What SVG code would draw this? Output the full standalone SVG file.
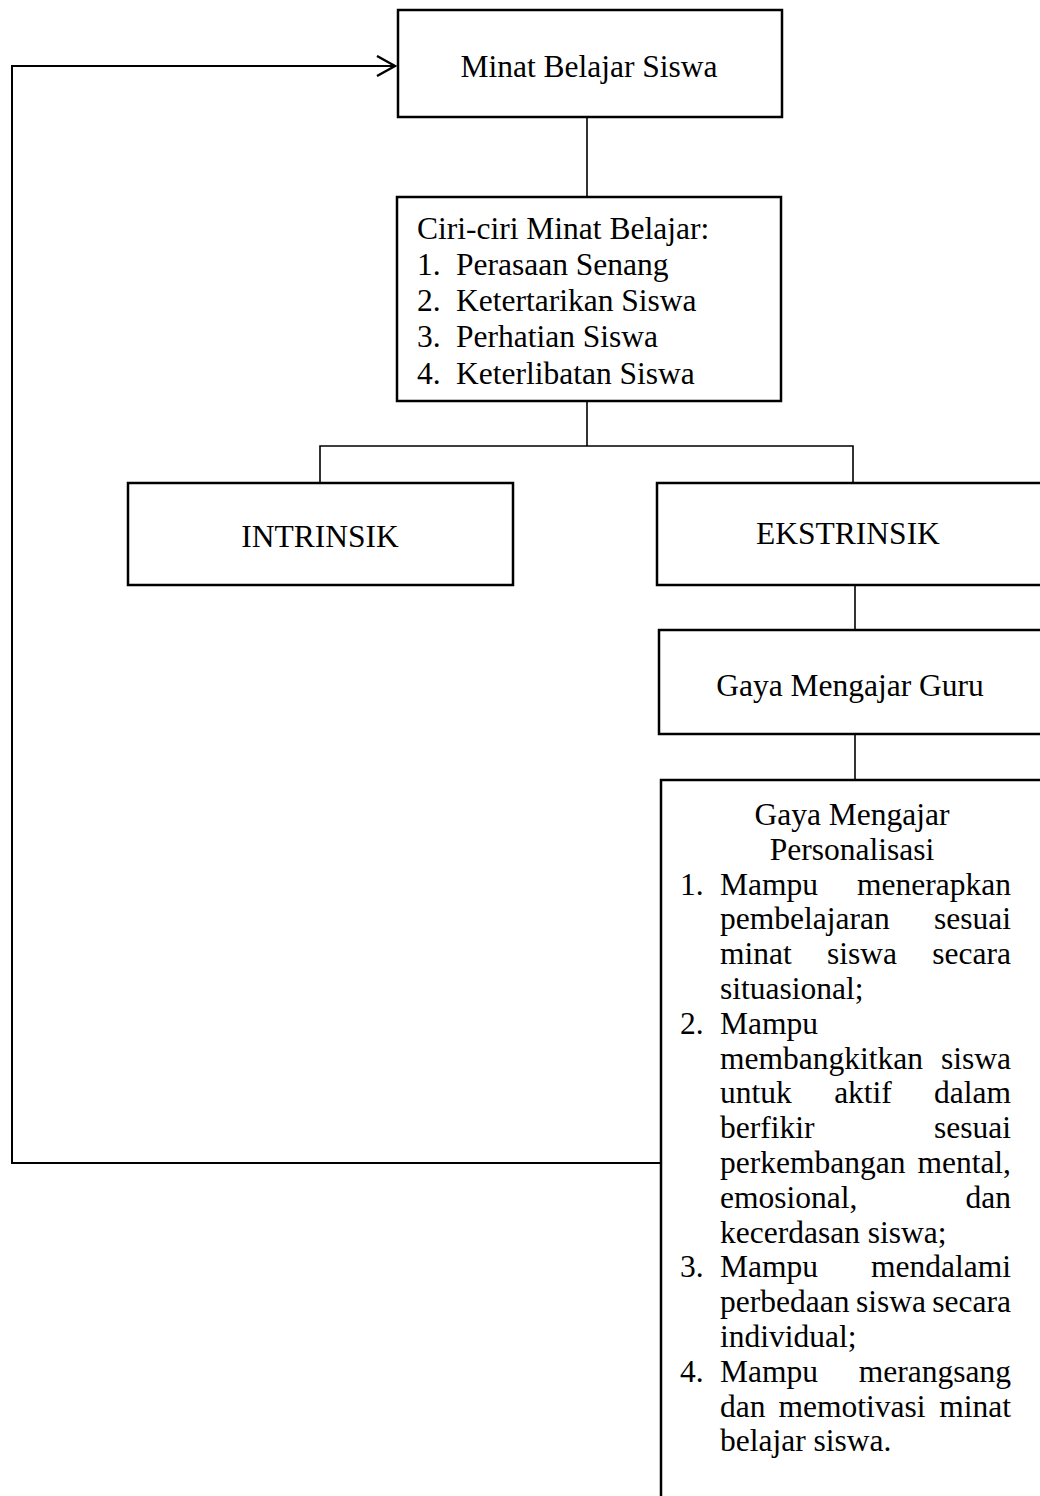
<svg xmlns="http://www.w3.org/2000/svg" width="1040" height="1496" viewBox="0 0 1040 1496">
<style>
  .box { fill: #ffffff; stroke: #000000; stroke-width: 2.5; }
  .conn { fill: none; stroke: #000000; stroke-width: 1.6; }
  .fb { fill: none; stroke: #000000; stroke-width: 2; }
  text { font-family: "Liberation Serif", "Times New Roman", serif; font-size: 31.5px; fill: #000000; }
  .c { text-anchor: middle; }
  .e { text-anchor: end; }
</style>
<defs>
  <marker id="open" viewBox="0 0 22 22" refX="20" refY="11" markerWidth="22" markerHeight="22" markerUnits="userSpaceOnUse" orient="auto">
    <path d="M2,1 L20,11 L2,21" fill="none" stroke="#000000" stroke-width="2.4"/>
  </marker>
</defs>
<rect width="1040" height="1496" fill="#ffffff"/>

<g id="connectors">
  <line class="conn" x1="587" y1="117" x2="587" y2="197"/>
  <line class="conn" x1="587" y1="401" x2="587" y2="446"/>
  <polyline class="conn" points="320,483 320,446 853,446 853,483"/>
  <line class="conn" x1="855" y1="585" x2="855" y2="630"/>
  <line class="conn" x1="855" y1="734" x2="855" y2="780"/>
  <polyline class="fb" points="661,1163 12,1163 12,66 395,66" marker-end="url(#open)"/>
</g>

<g id="node-minat">
  <rect class="box" x="398" y="10" width="384" height="107"/>
  <text class="c" x="589" y="77">Minat Belajar Siswa</text>
</g>

<g id="node-ciri">
  <rect class="box" x="397" y="197" width="384" height="204"/>
  <text x="417" y="239">Ciri-ciri Minat Belajar:</text>
  <text x="417" y="275">1.</text><text x="456" y="275">Perasaan Senang</text>
  <text x="417" y="311">2.</text><text x="456" y="311">Ketertarikan Siswa</text>
  <text x="417" y="347">3.</text><text x="456" y="347">Perhatian Siswa</text>
  <text x="417" y="384">4.</text><text x="456" y="384">Keterlibatan Siswa</text>
</g>

<g id="node-intrinsik">
  <rect class="box" x="128" y="483" width="385" height="102"/>
  <text class="c" x="320" y="547">INTRINSIK</text>
</g>

<g id="node-ekstrinsik">
  <rect class="box" x="657" y="483" width="400" height="102"/>
  <text class="c" x="848" y="544">EKSTRINSIK</text>
</g>

<g id="node-gaya-guru">
  <rect class="box" x="659" y="630" width="400" height="104"/>
  <text class="c" x="850" y="696">Gaya Mengajar Guru</text>
</g>

<g id="node-personalisasi">
  <rect class="box" x="661" y="780" width="400" height="740"/>
  <text class="c" x="852" y="825">Gaya Mengajar</text>
  <text class="c" x="852" y="860">Personalisasi</text>
  <text x="680" y="895">1.</text><text x="720" y="895">Mampu</text><text class="e" x="1011" y="895">menerapkan</text>
  <text x="720" y="929">pembelajaran</text><text class="e" x="1011" y="929">sesuai</text>
  <text x="720" y="964">minat</text><text class="c" x="862" y="964">siswa</text><text class="e" x="1011" y="964">secara</text>
  <text x="720" y="999">situasional;</text>
  <text x="680" y="1034">2.</text><text x="720" y="1034">Mampu</text>
  <text x="720" y="1069">membangkitkan</text><text class="e" x="1011" y="1069">siswa</text>
  <text x="720" y="1103">untuk</text><text class="c" x="863" y="1103">aktif</text><text class="e" x="1011" y="1103">dalam</text>
  <text x="720" y="1138">berfikir</text><text class="e" x="1011" y="1138">sesuai</text>
  <text x="720" y="1173">perkembangan</text><text class="e" x="1011" y="1173">mental,</text>
  <text x="720" y="1208">emosional,</text><text class="e" x="1011" y="1208">dan</text>
  <text x="720" y="1243">kecerdasan siswa;</text>
  <text x="680" y="1277">3.</text><text x="720" y="1277">Mampu</text><text class="e" x="1011" y="1277">mendalami</text>
  <text x="720" y="1312">perbedaan</text><text class="c" x="891" y="1312">siswa</text><text class="e" x="1011" y="1312">secara</text>
  <text x="720" y="1347">individual;</text>
  <text x="680" y="1382">4.</text><text x="720" y="1382">Mampu</text><text class="e" x="1011" y="1382">merangsang</text>
  <text x="720" y="1417">dan</text><text class="c" x="852" y="1417">memotivasi</text><text class="e" x="1011" y="1417">minat</text>
  <text x="720" y="1451">belajar siswa.</text>
</g>
</svg>
